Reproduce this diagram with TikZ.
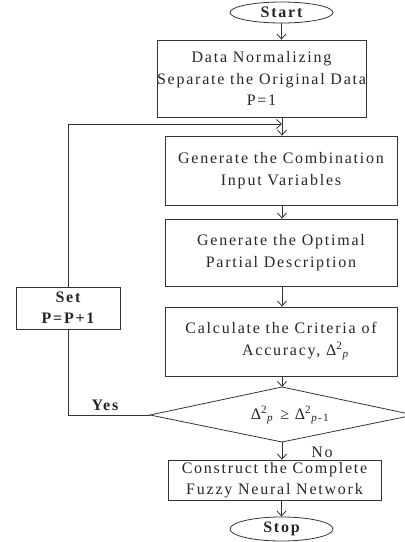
\documentclass[tikz,border=0pt]{standalone}
\usepackage{fontspec}
\setmainfont[LetterSpace=11]{Liberation Serif}
\usetikzlibrary{shapes.geometric,arrows.meta}
\begin{document}
\begin{tikzpicture}[x=1pt,y=-1pt,
  every node/.style={font=\fontsize{16}{21.5}\selectfont, text=black!85},
  box/.style={draw=black!80, line width=0.8pt, rectangle, inner sep=0pt, align=center},
  term/.style={draw=black!80, line width=0.8pt, ellipse, inner sep=0pt, font=\fontsize{16}{21.5}\selectfont\bfseries},
  line/.style={draw=black!80, line width=0.8pt},
  arr/.style={line, -{Straight Barb[length=5pt,width=9pt]}},
  lab/.style={inner sep=0pt}]
\useasboundingbox (0,0) rectangle (405,542);
\node[term, minimum width=103pt, minimum height=21pt] (start) at (281.5,12.5) {Start};
\node[box, minimum width=193pt, minimum height=77pt] (b1) at (261.5,78.5) {Data Normalizing\\Separate the Original Data\\P=1};
\coordinate (j) at (282,124);
\node[box, minimum width=232pt, minimum height=69pt] (b2) at (281,170.5) {Generate the Combination\\Input Variables};
\node[box, minimum width=232pt, minimum height=67pt] (b3) at (281,252.5) {Generate the Optimal\\Partial Description};
\node[box, minimum width=232pt, minimum height=69pt] (b4) at (281,341.5) {Calculate the Criteria of\\\hspace*{30pt}Accuracy, Δ\textsuperscript{2}\textsubscript{\textit{p}}};
\coordinate (dt) at (282,387);
\coordinate (dr) at (414,415);
\coordinate (db) at (282,442);
\coordinate (dl) at (150,415);
\draw[line] (dt) -- (dr) -- (db) -- (dl) -- cycle;
\node[lab] (dec) at (290,415) {Δ\textsuperscript{2}\textsubscript{\textit{p}} ≥ Δ\textsuperscript{2}\textsubscript{\textit{p}-1}};
\node[box, font=\fontsize{16}{21}\selectfont\bfseries, minimum width=104pt, minimum height=42pt] (set) at (68,308) {Set\\P=P+1};
\node[lab, font=\fontsize{16}{21}\selectfont\bfseries] (yes) at (105,405) {Yes};
\node[lab] (no) at (322,452) {No};
\node[box, minimum width=213pt, minimum height=40pt] (b5) at (274.5,480) {Construct the Complete\\Fuzzy Neural Network};
\node[term, minimum width=103pt, minimum height=24pt] (stop) at (281.5,529) {Stop};
\draw[arr] (start) -- (start |- b1.north);
\draw[arr] (j |- b1.south) -- (j |- b2.north);
\draw[arr] (set.north) -- (set.north |- j) -- (j);
\draw[arr] (j |- b2.south) -- (j |- b3.north);
\draw[arr] (j |- b3.south) -- (j |- b4.north);
\draw[arr] (j |- b4.south) -- (dt);
\draw[line] (dl) -| (set.south);
\draw[arr] (db) -- (db |- b5.north);
\draw[arr] (stop.north |- b5.south) -- (stop.north);
\end{tikzpicture}
\end{document}
